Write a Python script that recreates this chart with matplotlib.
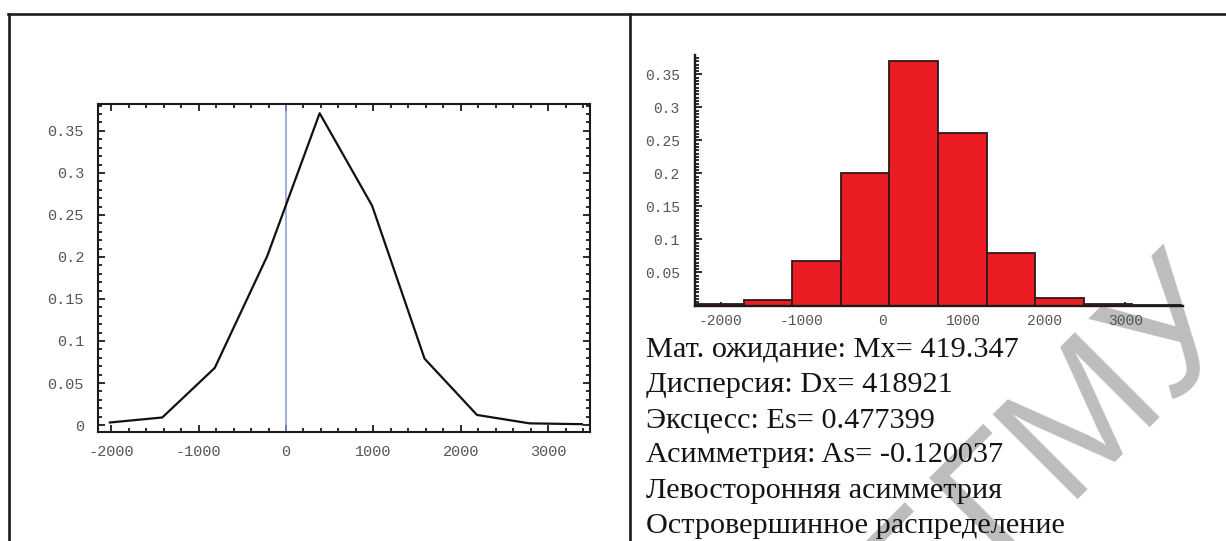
import matplotlib
matplotlib.use("Agg")
import matplotlib.pyplot as plt
from matplotlib.lines import Line2D
from matplotlib.ticker import MultipleLocator, FixedLocator
import numpy as np

plt.rcParams['axes.unicode_minus'] = False

# frequency polygon / histogram data (bin centres and relative frequencies)
bin_centers = [-2015, -1415, -815, -215, 385, 985, 1585, 2185, 2785, 3385]
freqs = [0.003, 0.009, 0.068, 0.201, 0.371, 0.261, 0.079, 0.012, 0.002, 0.001]
bin_width = 600

y_ticks = [0, 0.05, 0.1, 0.15, 0.2, 0.25, 0.3, 0.35]
y_labels = ['0', '0.05', '0.1', '0.15', '0.2', '0.25', '0.3', '0.35']
x_ticks = [-2000, -1000, 0, 1000, 2000, 3000]
x_labels = ['-2000', '-1000', '0', '1000', '2000', '3000']

stats_lines = [
    'Мат. ожидание: Mx= 419.347',
    'Дисперсия: Dx= 418921',
    'Эксцесс: Es= 0.477399',
    'Асимметрия: As= -0.120037',
    'Левосторонняя асимметрия',
    'Островершинное распределение',
]

W, H = 1226, 541
fig = plt.figure(figsize=(W / 100, H / 100), dpi=100)
fig.patch.set_facecolor('white')

mono = 'Liberation Mono'
lab_col = '#555555'
ink = '#1e1a1a'

# ---- table borders
def px_line(x0, y0, x1, y1, lw=1.9):
    fig.add_artist(Line2D([x0 / W, x1 / W], [1 - y0 / H, 1 - y1 / H],
                          color=ink, lw=lw, transform=fig.transFigure, zorder=4))

px_line(8, 14, W, 14)
px_line(8.5, 14, 8.5, H)
px_line(630, 14, 630, H)

# ---- watermark
fig.text(1245 / W, 1 - 318 / H, 'БГМУ', rotation=45, rotation_mode='anchor',
         ha='right', va='baseline', fontsize=125, color='#bdbdbd',
         family='Liberation Sans', zorder=0.5)

# ---- left: frequency polygon in a framed box
ax1 = fig.add_axes([98 / W, 1 - 432 / H, 492 / W, 328 / H])
ax1.set_zorder(1)
ax1.patch.set_alpha(0)
ax1.plot(bin_centers, freqs, color='#111111', lw=1.6, zorder=3)
ax1.axvline(0, color='#8a98d2', lw=1.1, zorder=2)
ax1.set_xlim(-2151, 3478)
ax1.set_ylim(-0.0083, 0.382)
ax1.yaxis.set_major_locator(FixedLocator(y_ticks))
ax1.set_yticklabels(y_labels)
ax1.yaxis.set_minor_locator(MultipleLocator(0.01))
ax1.xaxis.set_major_locator(FixedLocator(x_ticks))
ax1.set_xticklabels(x_labels)
ax1.xaxis.set_minor_locator(MultipleLocator(200))
for s in ax1.spines.values():
    s.set_linewidth(1.5)
    s.set_color(ink)
ax1.tick_params(which='both', direction='in', top=True, right=True,
                color=ink, width=1.3)
ax1.tick_params(which='major', length=5)
ax1.tick_params(which='minor', length=2.8)
ax1.tick_params(axis='y', pad=10)
ax1.tick_params(axis='x', pad=9)
for t in ax1.get_xticklabels() + ax1.get_yticklabels():
    t.set_fontfamily(mono)
    t.set_fontsize(11)
    t.set_color(lab_col)

# ---- right: histogram with crossing axes
ax2 = fig.add_axes([695 / W, 1 - 305.5 / H, 488 / W, 250.5 / H])
ax2.set_zorder(1)
ax2.patch.set_alpha(0)
ax2.bar(bin_centers, freqs, width=bin_width, color='#ec1c24',
        edgecolor='#2a1a1a', linewidth=1.3, zorder=2, clip_on=False)
ax2.set_xlim(-2315, 3710)
ax2.set_ylim(0, 0.3795)
ax2.spines['top'].set_visible(False)
ax2.spines['right'].set_visible(False)
for s in ('left', 'bottom'):
    ax2.spines[s].set_linewidth(1.7)
    ax2.spines[s].set_color(ink)
    ax2.spines[s].set_zorder(3)
ax2.yaxis.set_major_locator(FixedLocator(y_ticks[1:]))
ax2.set_yticklabels(y_labels[1:])
ax2.yaxis.set_minor_locator(MultipleLocator(0.005))
ax2.xaxis.set_major_locator(FixedLocator(x_ticks))
ax2.set_xticklabels(x_labels)
ax2.tick_params(which='both', direction='in', color=ink, width=1.3)
ax2.tick_params(axis='y', which='major', length=5, pad=11)
ax2.tick_params(axis='y', which='minor', length=3)
ax2.tick_params(axis='x', which='major', length=3, pad=6)
for t in ax2.get_xticklabels() + ax2.get_yticklabels():
    t.set_fontfamily(mono)
    t.set_fontsize(10.5)
    t.set_color(lab_col)

# ---- statistics text
for i, line in enumerate(stats_lines):
    y = 356.5 + i * 35.3
    fig.text(646 / W, 1 - y / H, line, ha='left', va='baseline',
             fontsize=21.8, family='Liberation Serif', color='#141414', zorder=3)

fig.savefig('out.png', dpi=100)
